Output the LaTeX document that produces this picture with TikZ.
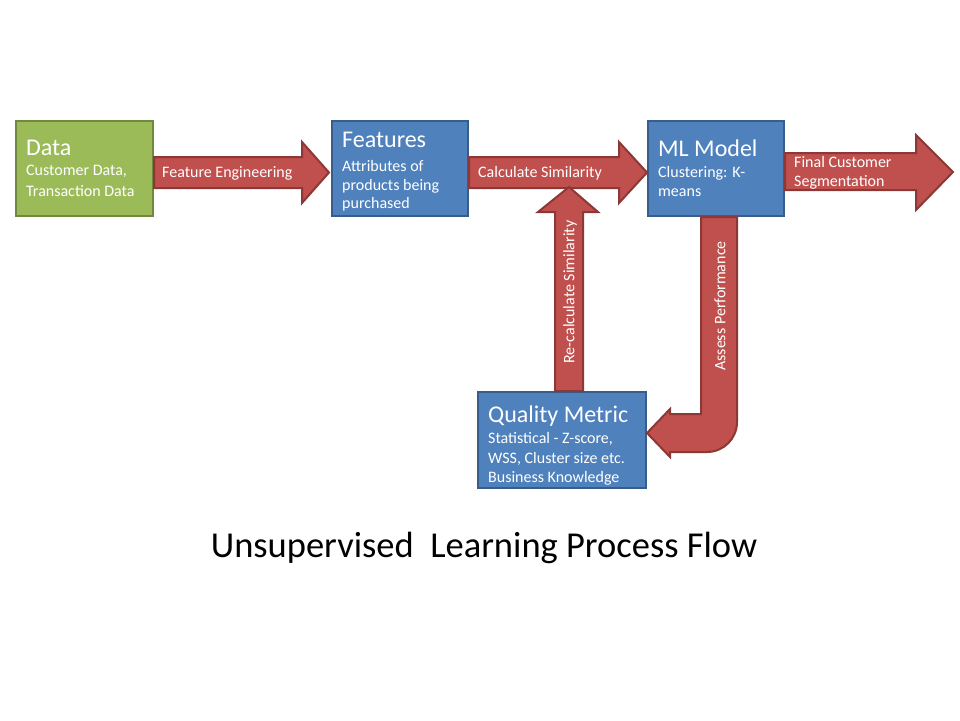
\documentclass[tikz,border=0pt]{standalone}
\usepackage{fontspec}
\setmainfont{Carlito}
\usetikzlibrary{calc}
\definecolor{gfill}{HTML}{9BBB59}
\definecolor{gline}{HTML}{71893F}
\definecolor{bfill}{HTML}{4F81BD}
\definecolor{bline}{HTML}{385D8A}
\definecolor{rfill}{HTML}{C0504D}
\definecolor{rline}{HTML}{8C3836}
\tikzset{
  boxg/.style={rectangle, draw=gline, fill=gfill, line width=2pt, inner sep=0pt},
  boxb/.style={rectangle, draw=bline, fill=bfill, line width=2pt, inner sep=0pt},
  barrow/.style={draw=rline, fill=rfill, line width=2pt, line join=miter},
  head/.style={text=white, inner sep=0pt, anchor=base west, font=\fontsize{24}{28}\selectfont},
  body/.style={text=white, inner sep=0pt, anchor=base west, font=\fontsize{16}{19}\selectfont},
  alabel/.style={text=white, inner sep=0pt, font=\fontsize{16}{19}\selectfont},
}
\begin{document}
\begin{tikzpicture}[x=1pt,y=-1pt]
\useasboundingbox (0,0) rectangle (960,720);
% boxes
\node[boxg, minimum width=137pt, minimum height=95pt] (data) at (84.5,168.5) {};
\node[boxb, minimum width=136pt, minimum height=95pt] (feat) at (400,168.5) {};
\node[boxb, minimum width=136pt, minimum height=95pt] (ml) at (716,168.5) {};
\node[boxb, minimum width=168pt, minimum height=96pt] (qm) at (562,440) {};
% arrow: Feature Engineering
\draw[barrow] ($(data.east)+(0,-11.5)$) -- ($(feat.west)+(-29,-11.5)$) -- ($(feat.west)+(-29,-26.5)$)
  -- ($(feat.west)+(-2,4)$) -- ($(feat.west)+(-29,34.5)$) -- ($(feat.west)+(-29,19.5)$)
  -- ($(data.east)+(0,19.5)$) -- cycle;
% arrow: Calculate Similarity
\draw[barrow] ($(feat.east)+(0,-11.5)$) -- ($(ml.west)+(-28,-11.5)$) -- ($(ml.west)+(-28,-26.5)$)
  -- ($(ml.west)+(0,4)$) -- ($(ml.west)+(-28,34.5)$) -- ($(ml.west)+(-28,19.5)$)
  -- ($(feat.east)+(0,19.5)$) -- cycle;
% arrow: Final Customer Segmentation
\coordinate (fend) at (953,172);
\draw[barrow] ($(ml.east)+(0,-15.5)$) -- ($(fend)+(-37,-19)$) -- ($(fend)+(-37,-37)$)
  -- (fend) -- ($(fend)+(-37,38)$) -- ($(fend)+(-37,18)$)
  -- ($(ml.east)+(0,21.5)$) -- cycle;
% arrow: Re-calculate Similarity (up)
\coordinate (utip) at (569,187);
\draw[barrow] ($(qm.north)+(-7,0)$) -- ($(qm.north)+(-7,-179)$) -- ($(qm.north)+(-24,-179)$)
  -- (utip) -- ($(qm.north)+(36,-179)$) -- ($(qm.north)+(21,-179)$)
  -- ($(qm.north)+(21,0)$) -- cycle;
% arrow: Assess Performance (down then left)
\draw[barrow] ($(ml.south)+(-15,0)$) -- (701,414) -- (670,414) -- (670,409) -- ($(qm.east)+(0,-7)$)
  -- (670,457) -- (670,452) -- (707,452) .. controls (723.6,452) and (737,438.6) .. (737,422)
  -- ($(ml.south)+(21,0)$) -- cycle;
% box texts
\node[head] (dataH) at (26,155) {Data};
\node[body] (data1) at (26,175) {Customer Data,};
\node[body] (data2) at (26,196) {Transaction Data};
\node[head] (featH) at (342,147) {Features};
\node[body] (feat1) at (342,171) {Attributes of};
\node[body] (feat2) at (342,190) {products being};
\node[body] (feat3) at (342,208) {purchased};
\node[head] (mlH) at (658,156) {ML Model};
\node[body] (ml1) at (658,177) {Clustering: K-};
\node[body] (ml2) at (658,196) {means};
\node[head] (qmH) at (488,422) {Quality Metric};
\node[body] (qm1) at (488,443) {Statistical - Z-score,};
\node[body] (qm2) at (488,463) {WSS, Cluster size etc.};
\node[body] (qm3) at (488,482) {Business Knowledge};
% arrow labels
\node[body] (lfe) at (162,177) {Feature Engineering};
\node[body] (lcs) at (478,177) {Calculate Similarity};
\node[body] (lfc1) at (794,167) {Final Customer};
\node[body] (lfc2) at (794,186) {Segmentation};
\node[alabel, rotate=90] (lrs) at (570,292) {Re-calculate Similarity};
\node[alabel, rotate=90] (lap) at (720,306) {Assess Performance};
% title
\node[inner sep=0pt, font=\fontsize{36.5}{42}\selectfont] (title) at (484,548) {Unsupervised\ \ Learning Process Flow};
\end{tikzpicture}
\end{document}
